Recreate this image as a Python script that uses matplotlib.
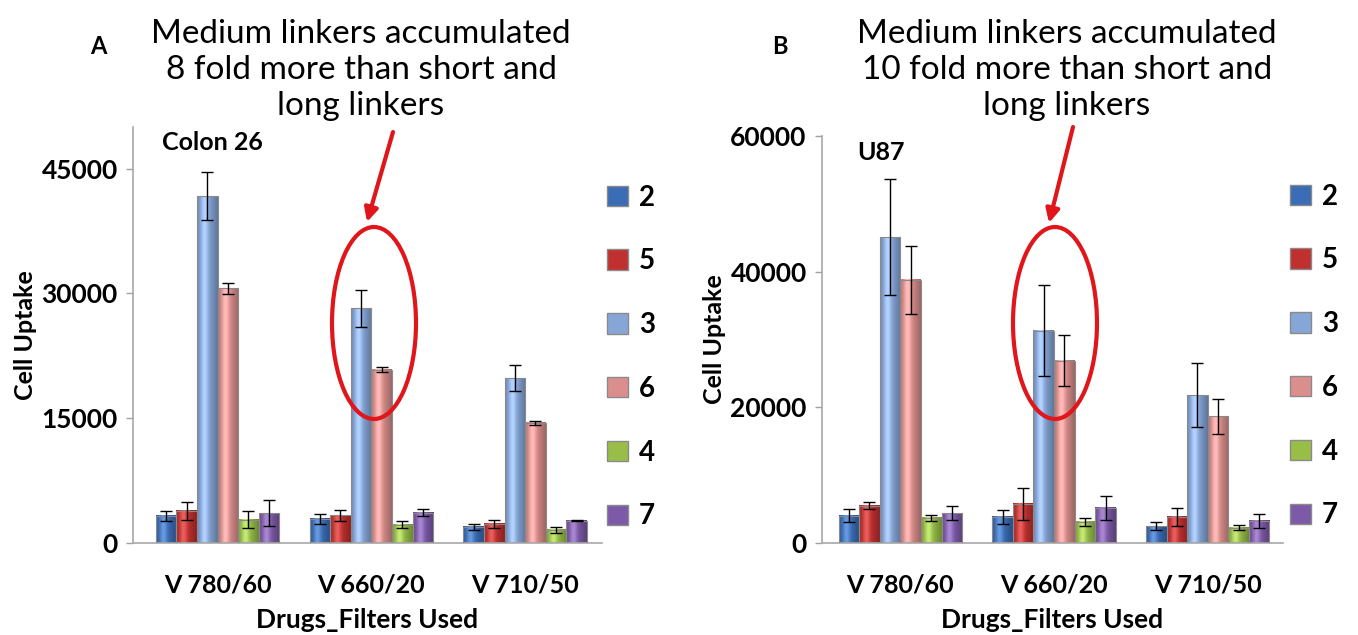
import numpy as np
import matplotlib
matplotlib.use("Agg")
import matplotlib.pyplot as plt
from matplotlib.patches import Ellipse, Patch, FancyArrowPatch
from matplotlib.colors import to_rgb

plt.rcParams['font.family'] = ['Lato', 'DejaVu Sans']

filters = ["V 780/60", "V 660/20", "V 710/50"]
linkers = ["2", "5", "3", "6", "4", "7"]
colors = ["#3A6DB6", "#C0302E", "#86A6D8", "#DB8F8D", "#98BE48", "#7D5AA8"]

# Colon 26 uptake, one list per linker (values for the three filters)
colon_vals = {
    "2": [3250, 2900, 1950],
    "5": [3850, 3350, 2300],
    "3": [41700, 28200, 19800],
    "6": [30600, 20800, 14450],
    "4": [2800, 2200, 1600],
    "7": [3600, 3650, 2650],
}
colon_err = {
    "2": [600, 600, 350],
    "5": [1100, 650, 450],
    "3": [2900, 2250, 1550],
    "6": [650, 300, 250],
    "4": [1050, 400, 350],
    "7": [1600, 450, 60],
}

# U87 uptake
u87_vals = {
    "2": [4000, 3850, 2500],
    "5": [5500, 5750, 3850],
    "3": [45100, 31300, 21800],
    "6": [38800, 26900, 18700],
    "4": [3700, 3100, 2250],
    "7": [4400, 5200, 3250],
}
u87_err = {
    "2": [950, 1050, 600],
    "5": [500, 2300, 1350],
    "3": [8600, 6700, 4700],
    "6": [5000, 3750, 2600],
    "4": [500, 600, 350],
    "7": [1000, 1800, 1050],
}

W, H = 1358, 635
fig = plt.figure(figsize=(W / 100, H / 100), dpi=100)


def fx(x):
    return x / W


def fy(y):
    return 1 - y / H


def shaded_bar(ax, x, w, h, color):
    # bar with a soft horizontal shine
    base = np.array(to_rgb(color))
    t = np.linspace(0, 1, 40)
    shade = 1 - 0.28 * np.abs(t - 0.4) ** 1.3 * 2
    light = 0.18 * np.exp(-((t - 0.35) / 0.18) ** 2)
    rgb = np.clip(base[None, :] * shade[:, None] + light[:, None], 0, 1)
    img = np.tile(rgb[None, :, :], (2, 1, 1))
    ax.imshow(img, extent=[x - w / 2, x + w / 2, 0, h], aspect='auto',
              zorder=2, interpolation='bilinear')
    ax.bar(x, h, w, facecolor='none', edgecolor='#8A8A8A', linewidth=0.8, zorder=3)


def panel(box, vals, errs, ymax, ticks, xlim, legend_x, legend_y):
    left, top, right, bottom = box
    ax = fig.add_axes([fx(left), fy(bottom), fx(right - left), (bottom - top) / H])
    n = len(linkers)
    bw = 0.134
    x = np.arange(len(filters))
    for i, key in enumerate(linkers):
        pos = x + (i - (n - 1) / 2) * bw
        for p, v in zip(pos, vals[key]):
            shaded_bar(ax, p, bw, v, colors[i])
        ax.errorbar(pos, vals[key], yerr=errs[key], fmt='none', ecolor='black',
                    elinewidth=1, capsize=4, capthick=1, zorder=4)
    ax.set_xlim(*xlim)
    ax.set_ylim(0, ymax)
    ax.set_yticks(ticks)
    ax.set_xticks(x)
    ax.set_xticklabels(filters, fontsize=18, fontweight='bold')
    ax.tick_params(axis='y', labelsize=19, length=5, color='#A0A0A0', width=1, pad=6)
    for lab in ax.get_yticklabels():
        lab.set_fontweight('bold')
    ax.tick_params(axis='x', length=0, pad=22)
    for s in ['top', 'right']:
        ax.spines[s].set_visible(False)
    for s in ['left', 'bottom']:
        ax.spines[s].set_color('#A8A8A8')
        ax.spines[s].set_linewidth(1.2)
    ax.set_xlabel("Drugs_Filters Used", fontsize=19, fontweight='bold', labelpad=8)
    ax.set_ylabel("Cell Uptake", fontsize=18, fontweight='bold', labelpad=3)
    handles = [Patch(facecolor=c, edgecolor='#8A8A8A') for c in colors]
    fig.legend(handles, linkers, loc='center left',
               bbox_to_anchor=(fx(legend_x), fy(legend_y)), bbox_transform=fig.transFigure,
               frameon=False, prop={'size': 20, 'weight': 'bold'},
               labelspacing=1.36, handlelength=0.75, handleheight=0.75,
               handletextpad=0.4, borderaxespad=0, borderpad=0)
    return ax


ax_a = panel((133, 127, 602, 543), colon_vals, colon_err, 50000,
             [0, 15000, 30000, 45000], (-0.55, 2.5), 607, 357)
ax_b = panel((822, 136, 1283, 543), u87_vals, u87_err, 60000,
             [0, 20000, 40000, 60000], (-0.51, 2.49), 1290, 356)

fig.text(fx(212), fy(143), "Colon 26", fontsize=18, fontweight='bold', ha='center', va='center')
fig.text(fx(881), fy(153), "U87", fontsize=18, fontweight='bold', ha='center', va='center')
fig.text(fx(98), fy(47), "A", fontsize=17, fontweight='bold', ha='center', va='center')
fig.text(fx(780), fy(47), "B", fontsize=17, fontweight='bold', ha='center', va='center')

fig.text(fx(361), fy(70), "Medium linkers accumulated\n8 fold more than short and\nlong linkers",
         fontsize=24, ha='center', va='center', linespacing=1.25)
fig.text(fx(1067), fy(70), "Medium linkers accumulated\n10 fold more than short and\nlong linkers",
         fontsize=24, ha='center', va='center', linespacing=1.25)

# red call-outs around the medium linker bars
for cx, (x0, y0), (x1, y1) in [(374, (393, 132), (367, 222)), (1055, (1073, 127), (1049, 223))]:
    fig.add_artist(Ellipse((fx(cx), fy(323)), 84 / W, 192 / H, transform=fig.transFigure,
                           fill=False, edgecolor='#E0161B', linewidth=3))
    fig.add_artist(FancyArrowPatch(
        (fx(x0), fy(y0)), (fx(x1), fy(y1)), transform=fig.transFigure,
        arrowstyle='-|>,head_length=8,head_width=4', color='#E0161B', linewidth=3,
        shrinkA=0, shrinkB=0))

fig.savefig("out.png", dpi=100, facecolor='white')
